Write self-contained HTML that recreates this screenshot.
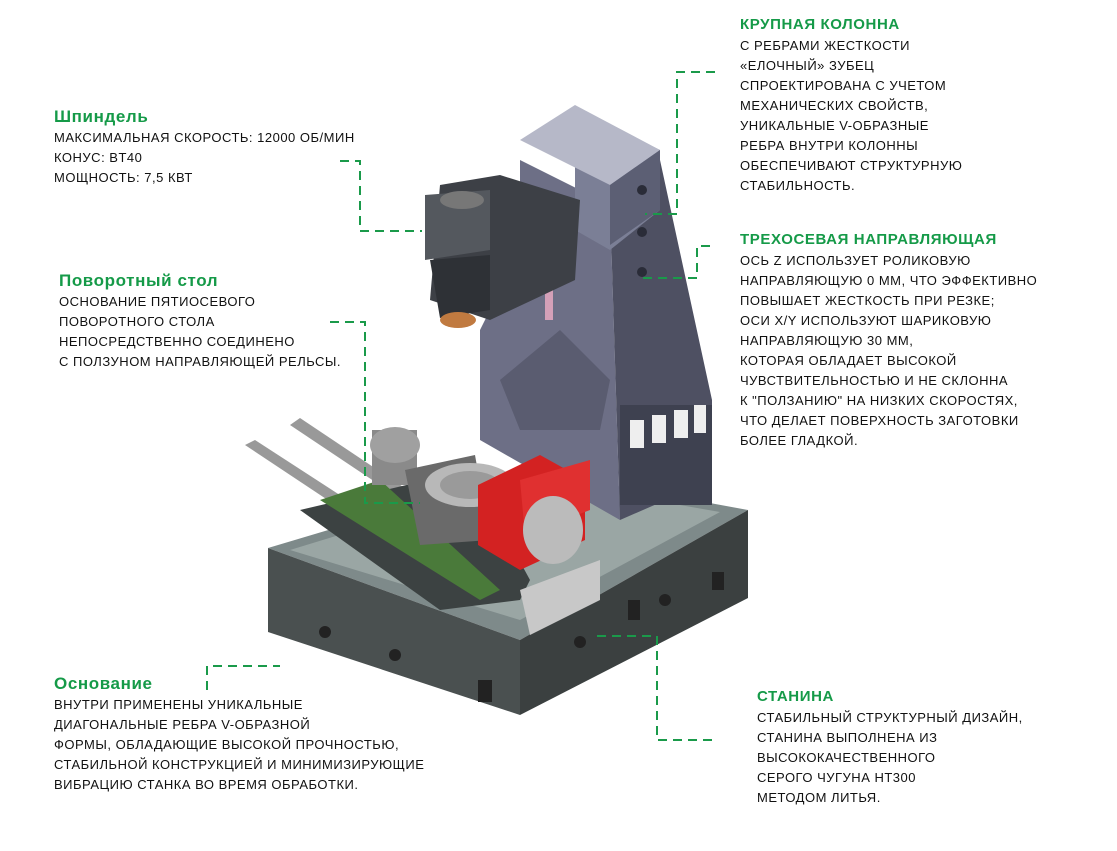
<!DOCTYPE html>
<html><head><meta charset="utf-8"><style>
body{margin:0;width:1117px;height:851px;background:#fff;position:relative;overflow:hidden;font-family:"Liberation Sans","DejaVu Sans",sans-serif;}
.t{position:absolute;text-transform:uppercase;color:#111;font-size:13px;line-height:20px;white-space:nowrap;letter-spacing:0.5px}
.t b{display:block;color:#159a48;font-size:17px;line-height:22px;letter-spacing:0.6px;text-transform:none}
.r b{text-transform:uppercase;font-size:15px;letter-spacing:0.6px}
.m{text-transform:none;font-size:14px}
svg{position:absolute;left:0;top:0}
</style></head><body>
<svg width="1117" height="851" viewBox="0 0 1117 851">
<polygon points="268,548 530,470 748,510 520,640" fill="#7e8a8a"/>
<polygon points="268,548 520,640 520,715 268,632" fill="#4a5050"/>
<polygon points="520,640 748,510 748,598 520,715" fill="#3b4040"/>
<polygon points="290,550 525,478 720,512 520,620" fill="#9aa6a4"/>
<circle cx="325" cy="632" r="6" fill="#222"/><circle cx="395" cy="655" r="6" fill="#222"/><circle cx="580" cy="642" r="6" fill="#222"/><circle cx="665" cy="600" r="6" fill="#222"/>
<rect x="478" y="680" width="14" height="22" fill="#222"/><rect x="628" y="600" width="12" height="20" fill="#222"/><rect x="712" y="572" width="12" height="18" fill="#222"/>
<polygon points="480,440 480,330 520,250 520,160 610,205 620,520" fill="#6d6f86"/>
<polygon points="610,205 660,165 660,160 712,400 712,480 620,520" fill="#4e5062"/>
<polygon points="575,110 660,150 660,210 610,250 575,230" fill="#7b7f96"/>
<polygon points="520,140 575,105 660,150 610,185" fill="#b6b8c8"/>
<polygon points="610,185 660,150 660,210 610,245" fill="#5c5f74"/>
<rect x="620" y="405" width="92" height="100" fill="#3e4150"/>
<rect x="630" y="420" width="14" height="28" fill="#eee"/><rect x="652" y="415" width="14" height="28" fill="#eee"/><rect x="674" y="410" width="14" height="28" fill="#eee"/><rect x="694" y="405" width="12" height="28" fill="#eee"/>
<circle cx="642" cy="190" r="5" fill="#2a2c38"/><circle cx="642" cy="232" r="5" fill="#2a2c38"/><circle cx="642" cy="272" r="5" fill="#2a2c38"/>
<polygon points="500,380 560,330 610,380 600,430 520,430" fill="#5a5c70"/>
<rect x="545" y="290" width="8" height="30" fill="#d4a0b8"/>
<polygon points="440,185 500,175 580,200 575,280 490,320 430,300" fill="#3d4046"/>
<polygon points="425,195 490,190 490,250 425,260" fill="#54585e"/>
<ellipse cx="462" cy="200" rx="22" ry="9" fill="#777"/>
<polygon points="430,260 490,255 490,310 440,318" fill="#2e3136"/>
<ellipse cx="458" cy="320" rx="18" ry="8" fill="#c07a40"/>
<polygon points="245,445 255,440 440,560 430,568" fill="#999"/>
<polygon points="290,425 300,418 460,525 450,532" fill="#999"/>
<polygon points="300,510 470,470 530,580 520,600 440,610" fill="#3c4242"/>
<polygon points="320,500 380,480 500,590 480,600" fill="#4a7a3a"/>
<rect x="372" y="430" width="45" height="55" fill="#8a8a8a"/>
<ellipse cx="395" cy="445" rx="25" ry="18" fill="#a0a0a0"/>
<polygon points="405,470 475,455 490,540 420,545" fill="#6a6a6a"/>
<ellipse cx="470" cy="485" rx="45" ry="22" fill="#b8b8b8"/>
<ellipse cx="470" cy="485" rx="30" ry="14" fill="#9a9a9a"/>
<polygon points="478,485 540,455 585,480 585,540 520,570 478,545" fill="#d32222"/>
<polygon points="520,480 590,460 590,510 525,535" fill="#e03030"/>
<ellipse cx="553" cy="530" rx="30" ry="34" fill="#bbb"/>
<polygon points="520,590 600,560 600,600 530,635" fill="#c8c8c8"/>
</svg>
<svg width="1117" height="851" style="z-index:2">
<g stroke="#1a9a4a" stroke-width="2" stroke-dasharray="9,6" fill="none">
<polyline points="340,161 360,161 360,231 422,231"/>
<polyline points="330,322 365,322 365,503 420,503"/>
<polyline points="207,690 207,666 280,666"/>
<polyline points="715,72 677,72 677,214 645,214"/>
<polyline points="710,246 697,246 697,278 640,278"/>
<polyline points="712,740 657,740 657,636 597,636"/>
</g></svg>
<div class="t" style="left:54px;top:106px"><b>Шпиндель</b>Максимальная скорость: 12000 об/мин<br>Конус: BT40<br>Мощность: 7,5 кВт</div>
<div class="t" style="left:59px;top:270px"><b>Поворотный стол</b>Основание пятиосевого<br>поворотного стола<br>непосредственно соединено<br>с ползуном направляющей рельсы.</div>
<div class="t" style="left:54px;top:673px"><b>Основание</b>Внутри применены уникальные<br>диагональные ребра V-образной<br>формы, обладающие высокой прочностью,<br>стабильной конструкцией и минимизирующие<br>вибрацию станка во время обработки.</div>
<div class="t r" style="left:740px;top:14px"><b>Крупная колонна</b>с ребрами жесткости<br>«елочный» зубец<br>Спроектирована с учетом<br>механических свойств,<br>уникальные V-образные<br>ребра внутри колонны<br>обеспечивают структурную<br>стабильность.</div>
<div class="t r" style="left:740px;top:229px"><b>Трехосевая направляющая</b>Ось Z использует роликовую<br>направляющую 0 мм, что эффективно<br>повышает жесткость при резке;<br>оси X/Y используют шариковую<br>направляющую 30 мм,<br>которая обладает высокой<br>чувствительностью и не склонна<br>к "ползанию" на низких скоростях,<br>что делает поверхность заготовки<br>более гладкой.</div>
<div class="t r" style="left:757px;top:686px"><b>Станина</b>Стабильный структурный дизайн,<br>станина выполнена из<br>высококачественного<br>серого чугуна HT300<br>методом литья.</div>
</body></html>
